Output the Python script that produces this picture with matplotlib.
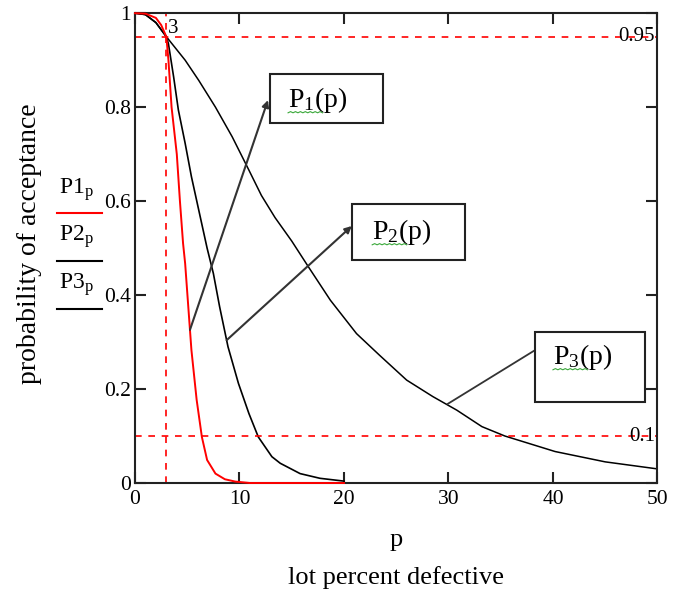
import matplotlib
matplotlib.use("Agg")
import numpy as np
import matplotlib.pyplot as plt
from matplotlib.patches import Rectangle
from matplotlib.lines import Line2D

plt.rcParams['font.family'] = ['Liberation Serif', 'DejaVu Serif']
plt.rcParams['mathtext.fontset'] = 'custom'
plt.rcParams['mathtext.rm'] = 'Liberation Serif'
plt.rcParams['mathtext.it'] = 'Liberation Serif:italic'

# OC curves (p in percent, probability of acceptance)
p1_x = [0, 1, 2, 2.5, 3.0, 3.2, 3.5, 4.0, 4.3, 4.6, 4.8, 5.1, 5.4, 5.9, 6.4, 6.9, 7.7, 8.6, 9.6, 11, 20]
p1_y = [1, 0.999, 0.99, 0.975, 0.95, 0.90, 0.80, 0.70, 0.60, 0.51, 0.467, 0.375, 0.283, 0.177,
        0.098, 0.049, 0.02, 0.008, 0.003, 0, 0]

p2_x = [0, 1, 2, 3.0, 3.2, 3.7, 4.15, 4.8, 5.4, 6.1, 6.9, 7.5, 8.1, 8.9, 9.9, 10.9, 11.8, 13.1,
        13.9, 15.8, 17.7, 20]
p2_y = [1, 0.997, 0.98, 0.95, 0.935, 0.864, 0.794, 0.723, 0.652, 0.581, 0.50, 0.446, 0.375, 0.29,
        0.212, 0.148, 0.098, 0.056, 0.042, 0.02, 0.01, 0.004]

p3_x = [0, 1, 2, 3.0, 4.8, 6.1, 7.7, 9.3, 10.9, 12.1, 13.4, 15.0, 16.6, 18.7, 21.2, 23.4, 26.0,
        28.5, 30.8, 33.2, 35.4, 40.2, 45, 50]
p3_y = [1, 0.997, 0.98, 0.95, 0.90, 0.857, 0.80, 0.737, 0.666, 0.612, 0.565, 0.515, 0.46, 0.389,
        0.318, 0.272, 0.219, 0.184, 0.155, 0.12, 0.10, 0.067, 0.045, 0.03]

x_ticks = [0, 10, 20, 30, 40, 50]
y_ticks = [0, 0.2, 0.4, 0.6, 0.8, 1]
y_tick_labels = ['0', '0.2', '0.4', '0.6', '0.8', '1']

# marker lines
p_marker = 3
pa_high = 0.95
pa_low = 0.1

# callout tail points on the curves
tail1 = (5.26, 0.326)
tail2 = (8.77, 0.304)
tail3 = (29.9, 0.168)

fig = plt.figure(figsize=(6.75, 6), dpi=100)
ax = fig.add_axes([0.2, 0.195, 0.774, 0.783])

ax.plot(p1_x, p1_y, color='red', lw=1.4, zorder=3, clip_on=False)
ax.plot(p2_x, p2_y, color='black', lw=1.2)
ax.plot(p3_x, p3_y, color='black', lw=1.1)

ax.axhline(pa_high, color='red', lw=1.2, ls=(0, (4, 4)))
ax.axhline(pa_low, color='red', lw=1.2, ls=(0, (4, 4)))
ax.axvline(p_marker, color='red', lw=1.2, ls=(0, (4, 4)))

ax.set_xlim(0, 50)
ax.set_ylim(0, 1)
ax.set_xticks(x_ticks)
ax.set_yticks(y_ticks)
ax.set_yticklabels(y_tick_labels)
ax.tick_params(direction='in', length=8, width=1.5, color='#222222', labelsize=15.5,
               top=True, right=True)
ax.tick_params(axis='x', pad=5)
ax.tick_params(axis='y', pad=3)
for s in ax.spines.values():
    s.set_linewidth(1.5)
    s.set_color('#222222')

# marker value labels
ax.text(0.995, pa_high, '0.95', transform=ax.get_yaxis_transform(), ha='right', va='center',
        fontsize=15)
ax.text(0.995, pa_low, '0.1', transform=ax.get_yaxis_transform(), ha='right', va='center',
        fontsize=15)
ax.text(p_marker + 0.2, 0.968, '3', ha='left', va='center', fontsize=15)

# callout boxes
boxes = [((0.258, 0.766), 0.217, 0.104, r'$\mathrm{P}_{1}\mathrm{(p)}$', (0.293, 0.815)),
         ((0.415, 0.474), 0.217, 0.120, r'$\mathrm{P}_{2}\mathrm{(p)}$', (0.454, 0.534)),
         ((0.766, 0.172), 0.210, 0.149, r'$\mathrm{P}_{3}\mathrm{(p)}$', (0.800, 0.268))]
for (xy, w, h, label, txy) in boxes:
    ax.add_patch(Rectangle(xy, w, h, transform=ax.transAxes, fill=True, facecolor='white',
                           edgecolor='#222222', lw=1.5, zorder=5))
    ax.text(txy[0], txy[1], label, transform=ax.transAxes, ha='left', va='center',
            fontsize=20, zorder=6)
    # spell-check squiggle under the function name
    sx = np.linspace(txy[0], txy[0] + 0.066, 15)
    sy = txy[1] - 0.027 + 0.0025 * (np.arange(15) % 2)
    ax.plot(sx, sy, color='#3aa83a', lw=0.8, transform=ax.transAxes, zorder=6)

arrow_kw = dict(arrowstyle='-|>', color='#333333', lw=1.5, mutation_scale=10, shrinkA=0, shrinkB=0)
ax.annotate('', xy=(0.2545, 0.815), xycoords='axes fraction', xytext=tail1, textcoords='data',
            arrowprops=arrow_kw, zorder=4)
ax.annotate('', xy=(0.415, 0.547), xycoords='axes fraction', xytext=tail2, textcoords='data',
            arrowprops=arrow_kw, zorder=4)
ax.annotate('', xy=(0.766, 0.283), xycoords='axes fraction', xytext=tail3, textcoords='data',
            arrowprops=dict(arrowstyle='-', color='#333333', lw=1.3, shrinkA=0, shrinkB=0),
            zorder=4)

# axis titles
fig.text(396 / 675, 1 - 540 / 600, 'p', ha='center', va='center', fontsize=19)
fig.text(396 / 675, 1 - 578 / 600, 'lot percent defective', ha='center', va='center', fontsize=19)
fig.text(30 / 675, 1 - 244 / 600, 'probability of acceptance', rotation=90, ha='center',
         va='center', fontsize=20)

# left side legend
legend_items = [(r'$\mathrm{P1}_{\mathrm{p}}$', 'red', 190, 213),
                (r'$\mathrm{P2}_{\mathrm{p}}$', 'black', 237, 261),
                (r'$\mathrm{P3}_{\mathrm{p}}$', 'black', 285, 309)]
for label, col, ty, ly in legend_items:
    fig.text(59 / 675, 1 - ty / 600, label, ha='left', va='center', fontsize=17)
    fig.add_artist(Line2D([57 / 675, 102 / 675], [1 - ly / 600, 1 - ly / 600], color=col, lw=1.5,
                          transform=fig.transFigure))

fig.savefig('out.png', dpi=100)
